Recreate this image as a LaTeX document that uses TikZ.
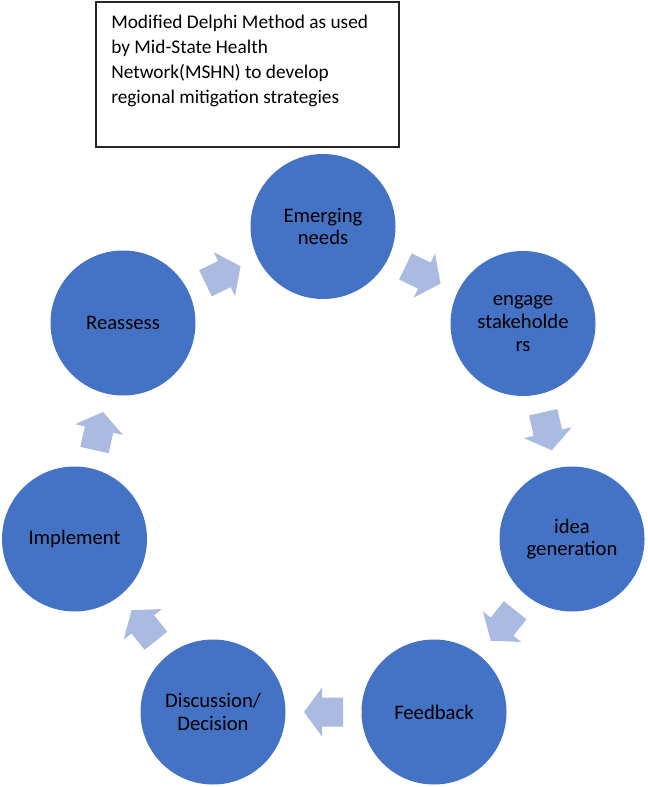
\documentclass[tikz,border=0pt]{standalone}
\usepackage{fontspec}
\setmainfont{Carlito}
\usetikzlibrary{calc}
\definecolor{cblue}{HTML}{4472C4}
\definecolor{carr}{HTML}{ABBAE0}
\tikzset{
  stepcircle/.style={circle, fill=cblue, draw=none, minimum size=145*0.75pt, inner sep=0pt,
    align=center, text=black, font=\fontsize{15.5}{17}\selectfont},
  titlebox/.style={draw=black!85, line width=0.8pt, fill=white},
}
\newcommand{\blockarrow}[2]{%
  \fill[carr] let \p1=(#1.center), \p2=(#2.center), \n1={atan2(\y2-\y1,\x2-\x1)} in
    [shift={($(\p1)!0.5!(\p2)$)}, rotate=\n1]
    (-19.5,-14.5) -- (1.5,-14.5) -- (1.5,-24.5) -- (19.5,0) -- (1.5,24.5) -- (1.5,14.5) -- (-19.5,14.5) -- cycle;%
}
\begin{document}
\begin{tikzpicture}[x=0.75pt,y=-0.75pt]
\path[use as bounding box, fill=white] (0,0) rectangle (648,787);
\draw[titlebox] (96,2) rectangle (399,147);
\node[anchor=north west, inner sep=0pt, align=left, font=\fontsize{14.5}{18.75}\selectfont] (title) at (111,15)
  {Modified Delphi Method as used\\by Mid-State Health\\Network(MSHN) to develop\\regional mitigation strategies};

\node[stepcircle] (em) at (323,226.5) {Emerging\\needs};
\node[stepcircle] (en) at (523,323.5) {engage\\stakeholde\\rs};
\node[stepcircle] (id) at (572,539) {idea\\generation};
\node[stepcircle] (fb) at (434,712) {Feedback};
\node[stepcircle] (dd) at (213,712) {Discussion/\\Decision};
\node[stepcircle] (im) at (74.5,539) {Implement};
\node[stepcircle] (re) at (123,323) {Reassess};

\blockarrow{re}{em}
\blockarrow{em}{en}
\blockarrow{en}{id}
\blockarrow{id}{fb}
\blockarrow{fb}{dd}
\blockarrow{dd}{im}
\blockarrow{im}{re}
\end{tikzpicture}
\end{document}
